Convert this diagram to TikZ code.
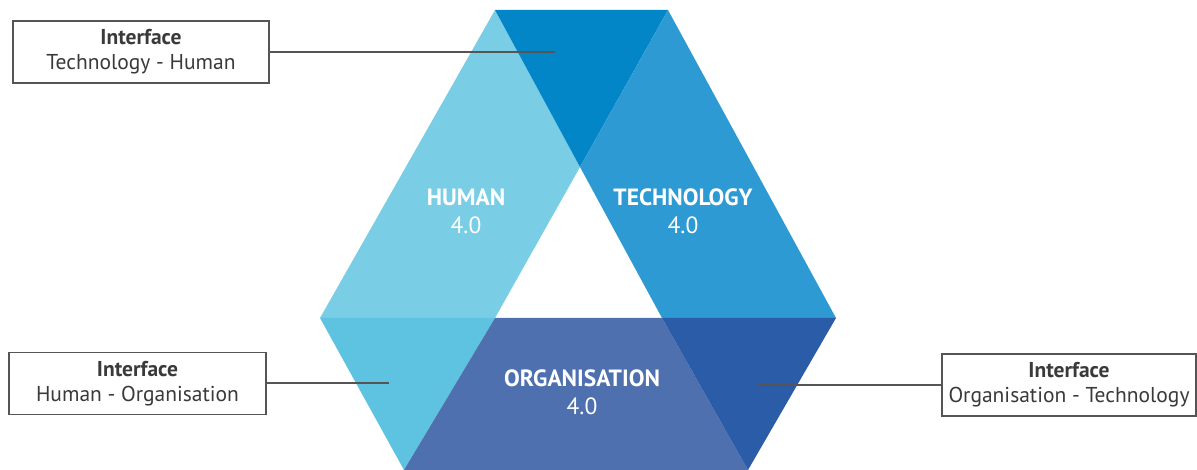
\documentclass[tikz,border=0pt]{standalone}
\usepackage{fontspec}
\setmainfont{PT Sans}
\definecolor{cHuman}{HTML}{79CDE5}
\definecolor{cTech}{HTML}{2D9AD3}
\definecolor{cTop}{HTML}{0386C8}
\definecolor{cOrg}{HTML}{4E70AF}
\definecolor{cBL}{HTML}{5EC3E1}
\definecolor{cBR}{HTML}{2B5CA8}
\definecolor{cLine}{HTML}{555555}
\definecolor{cText}{HTML}{3A3A3A}
\begin{document}
\begin{tikzpicture}[x=1bp,y=-1bp,
  ifbox/.style={draw=cLine,line width=1.6bp,fill=white,minimum height=62bp,
    inner sep=0pt,align=center,text=cText,font=\fontsize{21.5bp}{25bp}\selectfont},
  conn/.style={draw=cLine,line width=2bp},
  bandlabel/.style={text=white,align=center,font=\fontsize{23.5bp}{28bp}\selectfont}]
\useasboundingbox (0,0) rectangle (1197,470);
% shapes
\fill[cHuman] (320,318) -- (495,10) -- (580,167) -- (495,318) -- cycle;
\fill[cTop] (495,10) -- (668,10) -- (580,167) -- cycle;
\fill[cTech] (668,10) -- (836,318) -- (662,318) -- (580,167) -- cycle;
\fill[cBL] (320,318) -- (495,318) -- (404,470) -- cycle;
\fill[cOrg] (495,318) -- (662,318) -- (748,470) -- (404,470) -- cycle;
\fill[cBR] (662,318) -- (836,318) -- (748,470) -- cycle;
% labels
\node[bandlabel] (human) at (466,211) {\textbf{HUMAN}\\4.0};
\node[bandlabel] (tech) at (683,211) {\textbf{TECHNOLOGY}\\4.0};
\node[bandlabel] (org) at (582,392) {\textbf{ORGANISATION}\\4.0};
% interface boxes
\node[ifbox,minimum width=256bp] (ith) at (141,52) {\textbf{Interface}\\Technology - Human};
\node[ifbox,minimum width=257bp] (iho) at (137.5,383.5) {\textbf{Interface}\\Human - Organisation};
\node[ifbox,minimum width=254bp] (iot) at (1069,385) {\textbf{Interface}\\Organisation - Technology};
\coordinate (pth) at (555,52);
\coordinate (pho) at (389,383.5);
\coordinate (pot) at (757,385);
\draw[conn] (ith.east) -- (pth);
\draw[conn] (iho.east) -- (pho);
\draw[conn] (iot.west) -- (pot);
\end{tikzpicture}
\end{document}
